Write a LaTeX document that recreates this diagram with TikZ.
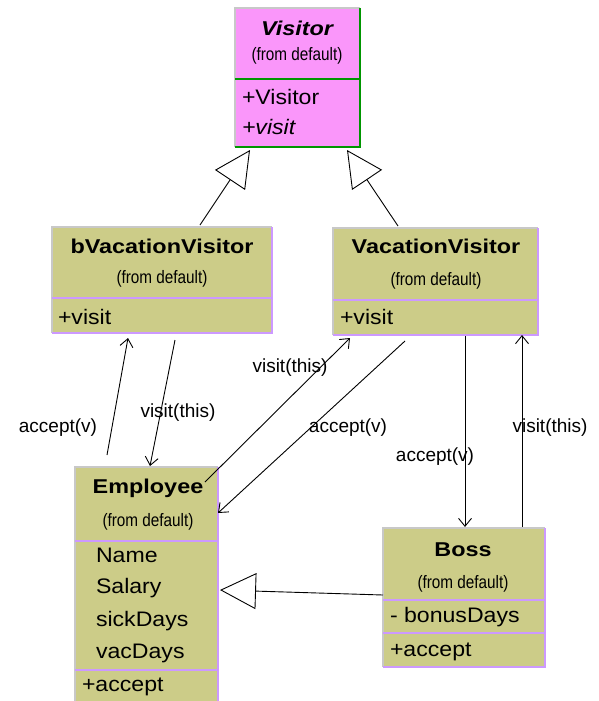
\documentclass[tikz,border=0pt]{standalone}
\usepackage{fontspec}
\setmainfont{Liberation Sans}
\newfontfamily\titlefont[FakeStretch=1.17]{Liberation Sans}
\newfontfamily\attrfont[FakeStretch=1.1]{Liberation Sans}
\newfontfamily\fromfont[FakeStretch=0.85]{Liberation Sans}
\usetikzlibrary{arrows.meta}
\definecolor{umlolive}{RGB}{204,204,136}
\definecolor{umlpink}{RGB}{250,150,250}
\definecolor{umlpurple}{RGB}{204,153,255}
\definecolor{umlgreen}{RGB}{0,150,0}
\definecolor{umlgrey}{RGB}{200,200,200}

\begin{document}
\begin{tikzpicture}[x=1pt,y=-1pt]
\tikzstyle{every node}=[inner sep=0pt,outer sep=0pt];
\tikzstyle{olivebox}=[fill=umlolive,anchor=north west];
\tikzstyle{pinkbox}=[fill=umlpink,anchor=north west];
\tikzstyle{lightedge}=[draw=umlgrey,line width=1.5pt];
\tikzstyle{purpleedge}=[draw=umlpurple,line width=2.5pt];
\tikzstyle{greenedge}=[draw=umlgreen,line width=2.5pt];
\tikzstyle{purplesep}=[draw=umlpurple,line width=1.8pt];
\tikzstyle{greensep}=[draw=umlgreen,line width=1.8pt];
\tikzstyle{title}=[font=\titlefont\bfseries\fontsize{20}{24}\selectfont];
\tikzstyle{from}=[font=\fromfont\fontsize{18}{21}\selectfont];
\tikzstyle{attr}=[anchor=west,font=\attrfont\fontsize{21}{25}\selectfont];
\tikzstyle{msglabel}=[font=\fontsize{19}{23}\selectfont];
\tikzstyle{msg}=[draw,line width=0.9pt,-{Straight Barb[length=8pt,width=13pt]}];
\tikzstyle{inherit}=[draw,line width=0.9pt,-{Triangle[open,length=36pt,width=36pt,fill=white]}];
\useasboundingbox (0,0) rectangle (598,701);

% Visitor
\node (visitor) [pinkbox,minimum width=125pt,minimum height=139pt] at (235,8) {};
\draw[lightedge] (visitor.south west) |- (visitor.north east);
\draw[greenedge] (visitor.north east) |- (visitor.south west);
\draw[greensep] ([yshift=-71pt]visitor.north west) -- ([yshift=-71pt]visitor.north east);
\node (visitor-title) [title,font=\titlefont\bfseries\itshape\fontsize{20}{24}\selectfont] at (297,28) {Visitor};
\node (visitor-from) [from] at (297,56) {(from default)};
\node (visitor-op1) [attr] at (242,97) {+Visitor};
\node (visitor-op2) [attr,font=\attrfont\itshape\fontsize{21}{25}\selectfont] at (242,127) {+visit};

% bVacationVisitor
\node (bvacation) [olivebox,minimum width=220pt,minimum height=106pt] at (52,227) {};
\draw[lightedge] (bvacation.south west) |- (bvacation.north east);
\draw[purpleedge] (bvacation.north east) |- (bvacation.south west);
\draw[purplesep] ([yshift=-71pt]bvacation.north west) -- ([yshift=-71pt]bvacation.north east);
\node (bvacation-title) [title] at (162,246) {bVacationVisitor};
\node (bvacation-from) [from] at (162,279) {(from default)};
\node (bvacation-op) [attr] at (58,317) {+visit};

% VacationVisitor
\node (vacation) [olivebox,minimum width=205pt,minimum height=107pt] at (333,228) {};
\draw[lightedge] (vacation.south west) |- (vacation.north east);
\draw[purpleedge] (vacation.north east) |- (vacation.south west);
\draw[purplesep] ([yshift=-72pt]vacation.north west) -- ([yshift=-72pt]vacation.north east);
\node (vacation-title) [title] at (436,246) {VacationVisitor};
\node (vacation-from) [from] at (436,281) {(from default)};
\node (vacation-op) [attr] at (340,317) {+visit};

% Employee
\node (employee) [olivebox,minimum width=143pt,minimum height=250pt] at (75,467) {};
\draw[lightedge] (employee.south west) |- (employee.north east);
\draw[purpleedge] (employee.north east) |- (employee.south west);
\draw[purplesep] ([yshift=-74pt]employee.north west) -- ([yshift=-74pt]employee.north east);
\draw[purplesep] ([yshift=-203pt]employee.north west) -- ([yshift=-203pt]employee.north east);
\node (employee-title) [title] at (148,488) {Employee};
\node (employee-from) [from] at (148,522) {(from default)};
\node (employee-name) [attr] at (96,555) {Name};
\node (employee-salary) [attr] at (96,588) {Salary};
\node (employee-sick) [attr] at (96,621) {sickDays};
\node (employee-vac) [attr] at (96,653) {vacDays};
\node (employee-op) [attr] at (82,687) {+accept};

% Boss
\node (boss) [olivebox,minimum width=162pt,minimum height=139pt] at (383,528) {};
\draw[lightedge] (boss.south west) |- (boss.north east);
\draw[purpleedge] (boss.north east) |- (boss.south west);
\draw[purplesep] ([yshift=-72pt]boss.north west) -- ([yshift=-72pt]boss.north east);
\draw[purplesep] ([yshift=-105pt]boss.north west) -- ([yshift=-105pt]boss.north east);
\node (boss-title) [title] at (463,550) {Boss};
\node (boss-from) [from] at (463,584) {(from default)};
\node (boss-attr) [attr] at (390,617) {- bonusDays};
\node (boss-op) [attr] at (390,652) {+accept};

% generalisation
\draw[inherit] ([xshift=38pt,yshift=2pt]bvacation.north) -- ([xshift=-47.5pt,yshift=-3pt]visitor.south);
\draw[inherit] ([xshift=-37.5pt,yshift=2pt]vacation.north) -- ([xshift=49.5pt,yshift=-3pt]visitor.south);
\draw[inherit] ([yshift=-67pt]boss.north west) -- ([xshift=2pt,yshift=-123pt]employee.north east);

% messages
\draw[msg] ([xshift=-39.5pt,yshift=12pt]employee.north) -- ([xshift=-34pt,yshift=-5pt]bvacation.south);
\draw[msg] ([xshift=13pt,yshift=-7pt]bvacation.south) -- ([xshift=3.5pt,yshift=1pt]employee.north);
\draw[msg] ([xshift=-13pt,yshift=-15pt]employee.north east) -- ([xshift=17pt,yshift=-3pt]vacation.south west);
\draw[msg] ([xshift=72pt,yshift=-6pt]vacation.south west) -- ([xshift=0pt,yshift=-46pt]employee.north east);
\draw[msg] ([xshift=132pt,yshift=-1pt]vacation.south west) -- ([xshift=82pt,yshift=1pt]boss.north west);
\draw[msg] ([xshift=139pt,yshift=1pt]boss.north west) -- ([xshift=189pt]vacation.south west);

\node (lbl-accept1) [msglabel] at (58,428) {accept(v)};
\node (lbl-visit1) [msglabel] at (178,413) {visit(this)};
\node (lbl-visit2) [msglabel] at (290,368) {visit(this)};
\node (lbl-accept2) [msglabel] at (348,428) {accept(v)};
\node (lbl-accept3) [msglabel] at (435,457) {accept(v)};
\node (lbl-visit3) [msglabel] at (550,428) {visit(this)};
\end{tikzpicture}
\end{document}
